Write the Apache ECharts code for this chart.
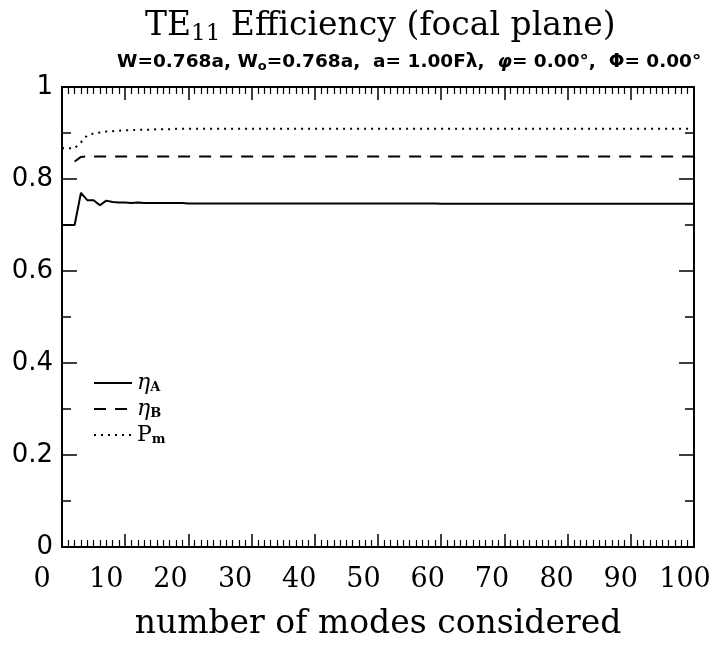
<!DOCTYPE html>
<html>
<head>
<meta charset="utf-8">
<script src="https://cdn.jsdelivr.net/npm/echarts@6/dist/echarts.min.js"></script>
<style>
html,body{margin:0;padding:0;background:#fff;}
#chart{width:721px;height:652px;}
</style>
</head>
<body>
<div id="chart"></div>
<script>
var modes = [0,1,2,3,4,5,6,7,8,9,10,11,12,13,14,15,16,17,18,19,20,21,22,23,24,25,26,27,28,29,30,31,32,33,34,35,36,37,38,39,40,41,42,43,44,45,46,47,48,49,50,51,52,53,54,55,56,57,58,59,60,61,62,63,64,65,66,67,68,69,70,71,72,73,74,75,76,77,78,79,80,81,82,83,84,85,86,87,88,89,90,91,92,93,94,95,96,97,98,99,100];

var etaA = [0.700,0.700,0.700,0.770,0.754,0.754,0.743,0.753,0.750,0.749,
0.749,0.748,0.749,0.748,0.748,0.748,0.748,0.748,0.748,0.748,
0.747,0.747,0.747,0.747,0.747,0.747,0.747,0.747,0.747,0.747,
0.747,0.747,0.747,0.747,0.747,0.747,0.747,0.747,0.747,0.747,
0.747,0.747,0.747,0.747,0.747,0.747,0.747,0.747,0.747,0.747,
0.747,0.747,0.747,0.747,0.747,0.747,0.747,0.747,0.747,0.747,
0.746,0.746,0.746,0.746,0.746,0.746,0.746,0.746,0.746,0.746,
0.746,0.746,0.746,0.746,0.746,0.746,0.746,0.746,0.746,0.746,
0.746,0.746,0.746,0.746,0.746,0.746,0.746,0.746,0.746,0.746,
0.746,0.746,0.746,0.746,0.746,0.746,0.746,0.746,0.746,0.746,0.746];

var etaB = [null,null,0.838,0.848,0.849,0.849,0.849,0.849,0.849,0.849,
0.849,0.849,0.849,0.849,0.849,0.849,0.849,0.849,0.849,0.849,
0.849,0.849,0.849,0.849,0.849,0.849,0.849,0.849,0.849,0.849,
0.849,0.849,0.849,0.849,0.849,0.849,0.849,0.849,0.849,0.849,
0.849,0.849,0.849,0.849,0.849,0.849,0.849,0.849,0.849,0.849,
0.849,0.849,0.849,0.849,0.849,0.849,0.849,0.849,0.849,0.849,
0.849,0.849,0.849,0.849,0.849,0.849,0.849,0.849,0.849,0.849,
0.849,0.849,0.849,0.849,0.849,0.849,0.849,0.849,0.849,0.849,
0.849,0.849,0.849,0.849,0.849,0.849,0.849,0.849,0.849,0.849,
0.849,0.849,0.849,0.849,0.849,0.849,0.849,0.849,0.849,0.849,0.849];

var Pm = [0.867,0.867,0.867,0.880,0.895,0.899,0.901,0.903,0.904,0.905,
0.906,0.906,0.907,0.907,0.907,0.908,0.908,0.908,0.909,0.909,
0.909,0.909,0.909,0.909,0.909,0.909,0.909,0.909,0.909,0.909,
0.909,0.909,0.909,0.909,0.909,0.909,0.909,0.909,0.909,0.909,
0.909,0.909,0.909,0.909,0.909,0.909,0.909,0.909,0.909,0.909,
0.909,0.909,0.909,0.909,0.909,0.909,0.909,0.909,0.909,0.909,
0.909,0.909,0.909,0.909,0.909,0.909,0.909,0.909,0.909,0.909,
0.909,0.909,0.909,0.909,0.909,0.909,0.909,0.909,0.909,0.909,
0.909,0.909,0.909,0.909,0.909,0.909,0.909,0.909,0.909,0.909,
0.909,0.909,0.909,0.909,0.909,0.909,0.909,0.909,0.909,0.909,0.909];

var xTicks = [0,10,20,30,40,50,60,70,80,90,100];
var yTicks = [0,0.2,0.4,0.6,0.8,1];

var seriesNames = ['etaA','etaB','Pm'];
var legendSub = {etaA:'A', etaB:'B', Pm:'m'};
var legendMain = {etaA:'{e|η}', etaB:'{e|η}', Pm:'{p|P}'};

function pairs(ys){ return modes.map(function(x,i){ return [x, ys[i]]; }); }

var serif = "'DejaVu Serif', serif";
var chart = echarts.init(document.getElementById('chart'), null, {renderer:'canvas'});

// per-label horizontal shift (styling only) to mimic the original label placement
var xLabelRich = {};
xTicks.forEach(function(v){
  var shift = -20 + 0.11 * v;
  xLabelRich['t' + v] = {fontSize:27, fontFamily:serif, color:'#000', padding:[0, Math.round(-2*shift), 0, 0]};
});

function xAxisBase(pos, showLabel){
  return {
    type:'value', position:pos, min:0, max:100, interval:10,
    axisLine:{show:true, onZero:false, lineStyle:{color:'#000', width:2}},
    axisTick:{show:true, inside:true, length:13, lineStyle:{color:'#000', width:1.5}},
    minorTick:{show:true, splitNumber:10, length:7, lineStyle:{color:'#000', width:1.2}},
    splitLine:{show:false},
    axisLabel:{show:showLabel, color:'#000', fontSize:27, fontFamily:serif, margin:19,
      formatter:function(v){ return '{t' + v + '|' + v + '}'; }, rich:xLabelRich},
  };
}
function yAxisBase(pos, showLabel){
  return {
    type:'value', position:pos, min:0, max:1, interval:0.2,
    axisLine:{show:true, onZero:false, lineStyle:{color:'#000', width:2}},
    axisTick:{show:true, inside:true, length:15, lineStyle:{color:'#000', width:1.5}},
    minorTick:{show:true, splitNumber:2, length:9, lineStyle:{color:'#000', width:1.5}},
    splitLine:{show:false},
    axisLabel:{show:showLabel, color:'#000', fontSize:26, fontFamily:"'DejaVu Sans', sans-serif", margin:9},
  };
}

var xb = xAxisBase('bottom', true);
xb.name = 'number of modes considered';
xb.nameLocation = 'middle';
xb.nameGap = 61;
xb.nameTextStyle = {color:'#000', fontSize:33, fontFamily:serif};
var xt = xAxisBase('top', false);

var option = {
  backgroundColor:'#fff',
  animation:false,
  title:[{
    left:145, top:6, padding:0,
    text:'TE{sub|11} Efficiency (focal plane)',
    textStyle:{color:'#000', fontSize:33, fontWeight:'normal', fontFamily:serif,
      rich:{sub:{fontSize:23, fontFamily:serif, color:'#000', padding:[17,0,0,0]}}}
  },{
    left:117, top:51, padding:0,
    text:'W=0.768a, W{sub|o}=0.768a,  a= 1.00Fλ,  {i|φ}= 0.00°,  Φ= 0.00°',
    textStyle:{color:'#000', fontSize:18.5, fontWeight:'bold', fontFamily:"'DejaVu Sans', sans-serif",
      rich:{sub:{fontSize:13, fontWeight:'bold', color:'#000', padding:[9,0,0,0]},
            i:{fontSize:18.5, fontStyle:'italic', fontWeight:'bold', color:'#000'}}}
  }],
  grid:{left:62, right:27, top:87, bottom:105, containLabel:false},
  legend:{
    orient:'vertical', left:93, top:372, itemWidth:38, itemHeight:14, itemGap:3.5, padding:0,
    data:seriesNames,
    itemStyle:{opacity:0},
    formatter:function(name){ return legendMain[name] + '{s|' + legendSub[name] + '}'; },
    textStyle:{color:'#000', rich:{
      e:{fontSize:22, fontStyle:'italic', fontFamily:serif, color:'#000'},
      p:{fontSize:22, fontFamily:serif, color:'#000'},
      s:{fontSize:13, fontWeight:'bold', fontFamily:serif, color:'#000', padding:[10,0,0,0]}
    }}
  },
  xAxis:[xb, xt],
  yAxis:[yAxisBase('left', true), yAxisBase('right', false)],
  series:[
    {name:'etaA', type:'line', data:pairs(etaA), symbol:'none', connectNulls:false,
     lineStyle:{color:'#000', width:2, type:'solid'}, itemStyle:{color:'#000'}},
    {name:'etaB', type:'line', data:pairs(etaB), symbol:'none',
     lineStyle:{color:'#000', width:2, type:[12,9]}, itemStyle:{color:'#000'}},
    {name:'Pm', type:'line', data:pairs(Pm), symbol:'none',
     lineStyle:{color:'#000', width:2, type:[2,5]}, itemStyle:{color:'#000'}}
  ]
};
chart.setOption(option);
</script>
</body>
</html>
